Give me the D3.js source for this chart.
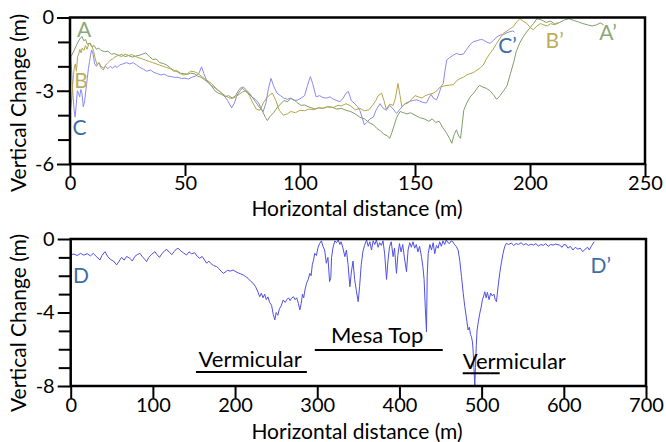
<!DOCTYPE html>
<html><head><meta charset="utf-8">
<script src="https://cdn.jsdelivr.net/npm/d3@7"></script>
<style>
html,body{margin:0;padding:0;background:#fff;}
svg{display:block;font-family:Lato,"Open Sans",sans-serif;}
</style></head>
<body>
<svg id="chart" width="666" height="442"></svg>
<script>
// ---------- DATA ----------
// Top panel: profiles A, B, C  [horizontal distance (m), vertical change (m)]
const profileA = [[0.5,-1.6],[1.5,-1.4],[2.5,-1.2],[3.5,-1.0],[4.5,-0.85],[5.2,-0.78],[6,-0.95],[6.8,-0.9],[7.5,-1.1],[8.5,-1.05],[9.5,-1.2],[10.5,-1.15],[11.5,-1.3],[12.5,-1.25],[13.5,-1.35],[15,-1.4],[16.5,-1.38],[18,-1.5],[19.5,-1.48],[21,-1.55],[22.5,-1.52],[24,-1.6],[25.5,-1.56],[27,-1.62],[28.5,-1.58],[30,-1.55],[31.5,-1.5],[33,-1.45],[34.5,-1.6],[36,-1.72],[37.5,-1.7],[39,-1.85],[40.5,-1.88],[42,-1.95],[43.5,-2.05],[45,-2.2],[46.5,-2.18],[48,-2.28],[49.5,-2.3],[51,-2.33],[52.5,-2.28],[54,-2.3],[55.5,-2.4],[57,-2.45],[58.5,-2.55],[60,-2.65],[61.5,-2.8],[63,-3.0],[64.5,-3.1],[66,-3.15],[67.5,-3.25],[69,-3.2],[70.5,-3.3],[72,-3.2],[73.5,-2.95],[74.6,-2.85],[76,-3.0],[77.5,-3.1],[79,-3.25],[80.5,-3.35],[82,-3.5],[83.5,-3.8],[85,-4.1],[85.8,-4.22],[87,-4.05],[88.5,-3.9],[90,-3.7],[91.5,-3.55],[93,-3.4],[94.5,-3.45],[96,-3.32],[97.5,-3.38],[99,-3.5],[100.5,-3.6],[102,-3.58],[103.5,-3.65],[105,-3.7],[106.5,-3.75],[108,-3.7],[110,-3.72],[112,-3.65],[114,-3.68],[116,-3.75],[118,-3.72],[120,-3.8],[122,-3.85],[124,-3.95],[126,-4.08],[128,-4.15],[130,-4.3],[132,-4.4],[133.5,-4.55],[135,-4.65],[136.5,-4.78],[138,-4.85],[139,-4.95],[140,-4.7],[141,-4.4],[142,-4.1],[143.5,-3.85],[145,-3.9],[146.5,-3.95],[148,-3.9],[150,-4.0],[152,-4.1],[154,-4.15],[156,-4.25],[157.5,-4.15],[159,-4.3],[160.5,-4.25],[162,-4.5],[163.5,-4.7],[165,-4.95],[166,-5.15],[167,-4.8],[168,-4.6],[169,-4.85],[169.8,-4.95],[170.5,-4.4],[171.2,-3.8],[172.5,-3.5],[174,-3.25],[175.5,-3.1],[177,-2.9],[178,-2.78],[179.5,-2.85],[181,-2.9],[182.6,-3.0],[184,-3.15],[185.5,-3.35],[187,-3.2],[188.5,-3.0],[190,-2.8],[191.5,-2.3],[193,-1.8],[194,-1.4],[195.5,-1.05],[197,-0.8],[198.5,-0.6],[200,-0.42],[201.5,-0.25],[203,-0.05],[205,-0.1],[207,-0.2],[209,-0.15],[211,-0.28],[213,-0.2],[215,-0.1],[217,-0.05],[219,-0.12],[221,-0.18],[223,-0.25],[225,-0.3],[227,-0.35],[229,-0.3],[230.5,-0.22],[232,-0.3]];

const profileB = [[0.3,-3.7],[0.8,-3.3],[1.3,-2.6],[1.8,-2.1],[2.3,-1.9],[2.8,-2.2],[3.3,-1.6],[3.8,-1.5],[4.3,-1.3],[4.8,-1.45],[5.3,-1.25],[6,-1.35],[6.7,-1.15],[7.4,-1.3],[8.1,-1.1],[8.8,-1.05],[9.5,-1.15],[10.3,-1.4],[11,-1.7],[11.8,-1.95],[12.6,-1.85],[13.4,-2.05],[14.5,-2.15],[15.5,-1.95],[16.5,-1.85],[17.5,-1.75],[18.5,-1.7],[19.5,-1.62],[21,-1.55],[22.5,-1.6],[24,-1.5],[25.5,-1.55],[27,-1.52],[28.5,-1.6],[30,-1.65],[31.5,-1.7],[33,-1.75],[34.5,-1.8],[36,-1.85],[37.5,-1.9],[39,-1.95],[40.5,-2.0],[42,-2.05],[43.5,-2.1],[45,-2.15],[46.5,-2.22],[48,-2.3],[49.5,-2.35],[51,-2.3],[52.5,-2.2],[54,-2.22],[55.5,-2.28],[57,-2.4],[58.5,-2.5],[60,-2.6],[61.5,-2.7],[63,-2.85],[64.5,-3.0],[66,-3.1],[67.5,-3.2],[69,-3.28],[70.5,-3.32],[72,-3.25],[73.5,-3.15],[75,-3.05],[76.5,-3.0],[78,-3.2],[79.5,-3.5],[81,-3.75],[82.6,-3.8],[84,-3.5],[85.5,-3.3],[87,-3.15],[88,-3.1],[89.5,-3.4],[91,-3.8],[92.7,-4.0],[94.5,-3.95],[96,-3.85],[98,-3.9],[100,-3.8],[102,-3.82],[104,-3.75],[106,-3.78],[108,-3.7],[110,-3.72],[112,-3.66],[114.5,-3.68],[116.5,-3.6],[118,-3.62],[120,-3.53],[122,-3.62],[124,-3.78],[126,-3.72],[128,-3.82],[130,-3.78],[131.5,-3.6],[133,-3.4],[134,-3.2],[135.5,-3.1],[136.5,-3.4],[137.5,-3.75],[139,-3.55],[140.5,-3.6],[141.5,-3.3],[142.6,-2.7],[143.5,-3.2],[144.3,-3.66],[145.5,-3.55],[147,-3.5],[148.5,-3.35],[150,-3.2],[151.5,-3.25],[153,-3.3],[154.5,-3.2],[156,-3.15],[158,-3.1],[159.5,-3.0],[161,-2.84],[163,-2.8],[165,-2.77],[166.7,-2.75],[168,-2.6],[169.6,-2.5],[171,-2.45],[172.5,-2.35],[174,-2.3],[175.5,-2.25],[177,-2.15],[178.5,-2.05],[179.7,-1.95],[181,-1.7],[182.6,-1.47],[184,-1.3],[185.5,-1.06],[187,-0.85],[188.4,-0.65],[190,-0.55],[191.5,-0.45],[192.8,-0.37],[194,-0.2],[195.6,-0.05],[197,-0.15],[198.6,-0.24],[200,-0.4],[201.4,-0.5],[203,-0.35],[204.5,-0.25],[206,-0.3],[207.5,-0.35],[209,-0.25],[210.5,-0.3],[212,-0.2]];

const profileC = [[0.3,-1.6],[0.8,-2.3],[1.3,-3.2],[1.8,-3.8],[2.2,-4.08],[2.7,-3.6],[3.2,-3.0],[3.7,-3.1],[4.2,-3.25],[4.7,-2.95],[5.2,-3.1],[5.8,-3.66],[6.4,-3.4],[7,-2.9],[7.5,-2.5],[8,-2.1],[8.5,-1.8],[9,-1.5],[9.4,-1.33],[10,-1.5],[10.7,-1.9],[11.5,-2.0],[12.5,-1.85],[13.5,-2.0],[14.5,-2.07],[15.5,-2.0],[16.5,-2.1],[17.5,-2.0],[18.5,-2.08],[19.5,-1.98],[20.5,-2.05],[21.5,-1.95],[23,-1.9],[24.5,-1.85],[26,-1.9],[27.5,-1.85],[29,-1.95],[30.5,-2.05],[32,-2.12],[33.3,-2.2],[35,-2.15],[36.5,-2.25],[38,-2.3],[39.5,-2.35],[41,-2.32],[42.5,-2.4],[44,-2.42],[45.5,-2.45],[47,-2.45],[48.5,-2.5],[50,-2.48],[51.5,-2.52],[53,-2.45],[54.5,-2.4],[56,-2.3],[57.2,-2.02],[58.2,-2.3],[59.5,-2.6],[61,-2.75],[62.5,-2.85],[64,-2.95],[65.5,-3.05],[67,-3.2],[68.5,-3.4],[70.3,-3.7],[71.5,-3.5],[72.5,-3.2],[74,-3.0],[75.3,-2.84],[76.5,-2.95],[78,-3.1],[79.5,-3.3],[81,-3.5],[82.5,-3.7],[84,-3.85],[85.2,-3.5],[86.3,-2.9],[87.4,-2.49],[88.5,-2.8],[90,-3.1],[91.5,-3.2],[93,-3.3],[94.5,-3.35],[96,-3.3],[97.5,-3.4],[99,-3.38],[100.5,-3.3],[102,-3.2],[103.2,-2.8],[104.5,-2.42],[105.5,-2.7],[107,-3.25],[108.5,-3.2],[110,-3.28],[111.6,-3.3],[113,-3.25],[114.5,-3.35],[116,-3.4],[117.4,-3.45],[118.8,-3.3],[120,-3.1],[121,-3.03],[122.3,-3.4],[123.5,-3.5],[125,-3.65],[126,-3.8],[127,-4.1],[128,-4.4],[129,-4.3],[130.5,-4.15],[131.9,-4.08],[133,-3.8],[134.8,-3.53],[136,-3.7],[137.5,-3.8],[139,-3.6],[140.5,-3.75],[142,-3.93],[143.5,-3.75],[145,-3.6],[146,-3.5],[147.5,-3.45],[149,-3.4],[150.7,-3.37],[152,-3.42],[153.5,-3.48],[155,-3.5],[156,-3.3],[157,-3.15],[158,-3.3],[159.4,-3.37],[160.5,-3.1],[161.5,-2.8],[162.3,-2.7],[163,-2.2],[163.8,-1.74],[165,-1.65],[166.5,-1.55],[168,-1.47],[169.5,-1.52],[171,-1.5],[172.5,-1.3],[174,-1.1],[175.4,-0.99],[177,-0.95],[178.5,-0.9],[179.7,-0.92],[181,-1.0],[182.6,-1.06],[184,-0.95],[185.5,-0.8],[187,-0.72],[188.5,-0.7],[190,-0.62],[191.3,-0.58],[192.5,-0.55],[193.3,-0.6]];

// Bottom panel: profile D
const profileD = [[0,-0.85],[4,-0.82],[8,-0.9],[12,-0.78],[16,-0.88],[20,-0.8],[24,-0.92],[27.5,-0.78],[31,-0.95],[35.6,-1.14],[38,-0.9],[41.7,-0.69],[45,-0.95],[48,-1.1],[52,-1.2],[55.9,-1.41],[59,-1.2],[62,-1.0],[65,-1.15],[68,-0.95],[72,-1.05],[75,-1.2],[78,-0.95],[81,-0.85],[84.3,-0.78],[87,-0.95],[90,-1.1],[92.4,-1.23],[95,-1.0],[98,-0.85],[102.5,-0.69],[105,-0.85],[108,-1.0],[111,-0.8],[114,-0.65],[116.7,-0.56],[120,-0.72],[123,-0.85],[126,-0.68],[128.5,-0.55],[130.9,-0.51],[134,-0.65],[137,-0.75],[141,-0.87],[144,-0.7],[147,-0.8],[151,-0.75],[154,-0.95],[157,-1.05],[160,-0.95],[163,-1.15],[165.4,-1.32],[168,-1.2],[171,-1.35],[174,-1.45],[177.5,-1.5],[180,-1.6],[183,-1.75],[185.6,-1.87],[188,-1.8],[191,-1.7],[194,-1.75],[197.7,-1.69],[201,-1.78],[204,-1.85],[207,-1.9],[209.9,-1.96],[213,-2.05],[216,-2.15],[219,-2.3],[222,-2.41],[225,-2.6],[228,-2.9],[230,-3.14],[232,-2.95],[234,-3.2],[236,-3.0],[238,-3.3],[240,-3.15],[242,-3.45],[244.4,-3.6],[246.4,-4.1],[248.4,-4.4],[250,-4.0],[252,-4.15],[254,-3.8],[256,-3.65],[258.5,-3.32],[261,-3.45],[263,-3.3],[265,-3.2],[267,-3.35],[268.6,-3.23],[271,-3.14],[273,-3.3],[275,-3.2],[277,-3.5],[278.8,-3.86],[280.5,-3.5],[282,-3.0],[283.5,-3.2],[285,-2.78],[287,-2.41],[289,-2.2],[291,-1.87],[292.5,-2.0],[294,-1.4],[295.5,-1.14],[297,-0.78],[299,-0.9],[301,-0.45],[303,-0.24],[305,-0.1],[307,-0.4],[309,-0.6],[311,-1.32],[313,-1.0],[315,-2.32],[316.5,-2.1],[317.4,-1.0],[319,-0.5],[321.4,-0.1],[323.5,-0.2],[325.5,-0.05],[327.5,-0.3],[329,-0.15],[331,-0.45],[333.6,-0.96],[335.5,-0.6],[337.5,-1.4],[339.7,-2.6],[341.5,-1.8],[343.5,-1.2],[345.5,-2.2],[347.5,-2.8],[349.8,-3.41],[351.5,-2.6],[353.5,-1.4],[355.5,-0.7],[357.5,-0.35],[360,-0.05],[362,-0.4],[364,-0.15],[366,-0.6],[368,-0.1],[370,-0.3],[372,-0.05],[374,-0.45],[376,-0.2],[378,-0.35],[380,-0.1],[382,-0.8],[384.3,-2.2],[386,-1.2],[388,-0.4],[390,-0.15],[392.3,-0.96],[394,-0.5],[396.4,-1.87],[398,-0.9],[400,-0.25],[402,-0.7],[404,-0.3],[406,-1.0],[408.6,-1.78],[410.5,-0.6],[412.5,-0.2],[414.5,-0.45],[416.5,-0.15],[418.5,-0.5],[420.5,-0.3],[422.5,-0.7],[424.5,-0.4],[426.8,-0.96],[428.5,-1.5],[430,-2.2],[431.5,-3.8],[432.9,-5.05],[433.8,-2.0],[435,-0.8],[437,-0.3],[439,-0.6],[441,-0.2],[443,-0.8],[445,-0.35],[447,-0.5],[449,-0.15],[451,-0.4],[453,-0.1],[455,-0.3],[457,-0.05],[459,-0.2],[461,-0.24],[463,-0.1],[465,-0.15],[467,-0.3],[469,-0.4],[471.4,-0.6],[473.5,-1.2],[475.5,-2.05],[477.5,-2.9],[479.5,-3.68],[481.5,-4.3],[483.5,-4.95],[485,-4.8],[486.5,-5.2],[487.6,-5.32],[488.8,-5.6],[489.6,-6.04],[490.6,-7.0],[491.7,-7.95],[492.5,-7.0],[493.5,-5.8],[494.5,-4.95],[496,-4.5],[497.8,-4.04],[499.5,-3.7],[501,-3.3],[502.5,-3.1],[503.8,-2.87],[505.5,-3.2],[507,-2.9],[509,-3.3],[511,-2.95],[513,-3.1],[515,-3.0],[516.5,-3.3],[518,-3.41],[520,-2.6],[522,-1.87],[524,-1.3],[526,-0.8],[528,-0.42],[530,-0.24],[533,-0.3],[536,-0.22],[539,-0.35],[542,-0.25],[545,-0.3],[548,-0.2],[551,-0.32],[554,-0.25],[557,-0.35],[560,-0.28],[563,-0.33],[566,-0.25],[569,-0.38],[572,-0.3],[575,-0.35],[578,-0.25],[581,-0.4],[584,-0.3],[587,-0.33],[590,-0.28],[594.6,-0.33],[598,-0.45],[600,-0.3],[602.8,-0.33],[605,-0.5],[608,-0.4],[611,-0.6],[614,-0.45],[617,-0.55],[620,-0.5],[623,-0.69],[626,-0.55],[629,-0.45],[631,-0.6],[634,-0.35],[637,-0.15]];

// Axis ticks
const topXTicks = [0, 50, 100, 150, 200, 250];
const topYTicks = [0, -3, -6];
const topYMinor = [-1, -2, -4, -5];
const botXTicks = [0, 100, 200, 300, 400, 500, 600, 700];
const botYTicks = [0, -4, -8];
const botYMinor = [-1, -2, -3, -5, -6, -7];

// End labels [text, x, y, colour-key]
const topLabels = [["A", 6.1, -0.8, "A"], ["B", 4.8, -2.89, "B"], ["C", 4.1, -4.82, "C"],
                   ["C\u2019", 190.2, -1.45, "C"], ["B\u2019", 210.7, -1.25, "B"], ["A\u2019", 233.9, -0.92, "A"]];
const botLabels = [["D", 12.5, -2.39], ["D\u2019", 645, -1.85]];
// Zone annotations [text, text-x, text-y, underline x0, underline x1, underline y]
const zones = [["Vermicular", 218.3, -6.97, 152.4, 287.4, -7.24],
               ["Mesa Top", 372.9, -5.66, 297, 452.7, -6.04],
               ["Vermicular", 539.7, -7.07, 477, 522, -7.3]];

// ---------- DRAW ----------
const lineCol = {A: "#7f9e68", B: "#b4a64c", C: "#8a8aef", D: "#5050e4"};
const labelCol = {A: "#8aa878", B: "#bcae5c", C: "#3e6ea8", D: "#3e6ea8"};
const svg = d3.select("#chart");
const TICKFONT = 20, TITLEFONT = 21, LABELFONT = 21;

function panel(o) {
  const g = svg.append("g");
  const x = d3.scaleLinear().domain(o.xDom).range([o.x0, o.x1]);
  const y = d3.scaleLinear().domain(o.yDom).range([o.y0, o.y1]);
  const line = d3.line().x(d => x(d[0])).y(d => y(d[1]));
  o.series.forEach(s => {
    g.append("path").datum(s.data).attr("d", line)
      .attr("fill", "none").attr("stroke", lineCol[s.key]).attr("stroke-width", 1)
      .attr("stroke-linejoin", "round");
  });
  g.append("rect").attr("x", o.x0).attr("y", o.y0).attr("width", o.x1 - o.x0).attr("height", o.y1 - o.y0)
    .attr("fill", "none").attr("stroke", "#000").attr("stroke-width", 2.5);
  const ya = g.append("g").attr("transform", `translate(${o.x0},0)`)
    .call(d3.axisLeft(y).tickValues(o.yTicks).tickSize(13).tickPadding(3));
  const ym = g.append("g").attr("transform", `translate(${o.x0},0)`)
    .call(d3.axisLeft(y).tickValues(o.yMinor).tickSize(12).tickFormat(""));
  const xa = g.append("g").attr("transform", `translate(0,${o.y1})`)
    .call(d3.axisBottom(x).tickValues(o.xTicks).tickSize(12).tickPadding(0));
  [ya, ym, xa].forEach(a => {
    a.select(".domain").remove();
    a.selectAll(".tick line").attr("stroke", "#000").attr("stroke-width", 2);
    a.selectAll("text").attr("font-size", TICKFONT).attr("fill", "#000").attr("font-family", "Lato");
  });
  ya.selectAll("text").text(d => d < 0 ? "-" + Math.abs(d) : String(d));
  g.append("text").attr("transform", `translate(${o.yTitleX},${o.yTitleY}) rotate(-90)`)
    .attr("text-anchor", "middle").attr("font-size", TITLEFONT).text("Vertical Change (m)");
  g.append("text").attr("x", o.xTitleX).attr("y", o.xTitleY)
    .attr("text-anchor", "middle").attr("font-size", TITLEFONT).text("Horizontal distance (m)");
  return {g, x, y};
}

const topP = panel({xDom: [0, 250], yDom: [0, -6], x0: 70, x1: 645, y0: 17.5, y1: 164,
  xTicks: topXTicks, yTicks: topYTicks, yMinor: topYMinor,
  series: [{key: "C", data: profileC}, {key: "A", data: profileA}, {key: "B", data: profileB}],
  yTitleX: 26, yTitleY: 103, xTitleX: 357, xTitleY: 216});

topLabels.forEach(l => {
  topP.g.append("text").attr("x", topP.x(l[1])).attr("y", topP.y(l[2]))
    .attr("text-anchor", "middle").attr("font-size", LABELFONT).attr("fill", labelCol[l[3]]).text(l[0]);
});

const botP = panel({xDom: [0, 700], yDom: [0, -8], x0: 70.7, x1: 646, y0: 239, y1: 386,
  xTicks: botXTicks, yTicks: botYTicks, yMinor: botYMinor,
  series: [{key: "D", data: profileD}],
  yTitleX: 26, yTitleY: 323, xTitleX: 357, xTitleY: 439});

botLabels.forEach(l => {
  botP.g.append("text").attr("x", botP.x(l[1])).attr("y", botP.y(l[2]))
    .attr("text-anchor", "middle").attr("font-size", LABELFONT).attr("fill", labelCol.D).text(l[0]);
});

zones.forEach(z => {
  botP.g.append("text").attr("x", botP.x(z[1])).attr("y", botP.y(z[2]))
    .attr("text-anchor", "middle").attr("font-size", 22).attr("fill", "#000").text(z[0]);
  botP.g.append("line").attr("x1", botP.x(z[3])).attr("x2", botP.x(z[4]))
    .attr("y1", botP.y(z[5])).attr("y2", botP.y(z[5])).attr("stroke", "#000").attr("stroke-width", 2);
});
</script>
</body></html>
